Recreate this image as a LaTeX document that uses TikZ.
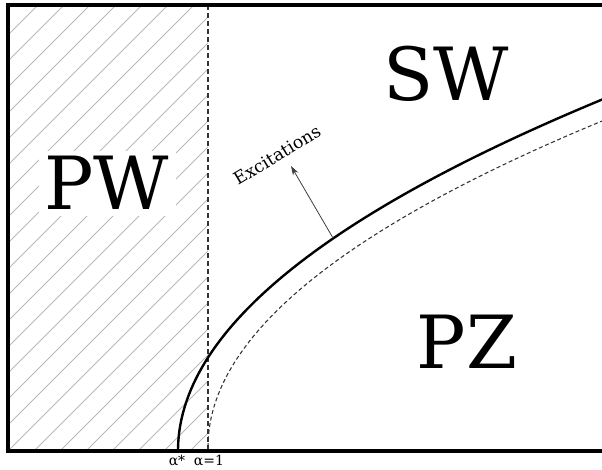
\documentclass[tikz,border=0pt]{standalone}
\usepackage{fontspec}
\setmainfont{DejaVu Serif}
\usetikzlibrary{arrows.meta, positioning, calc}

\begin{document}
\begin{tikzpicture}[
    x=0.75pt, y=-0.75pt,
    frame/.style={black, line width=2.3pt},
    hatchline/.style={gray!55, line width=0.6pt},
    border/.style={gray!40!black, line width=0.9pt, dash pattern=on 3.8pt off 2.2pt},
    curve/.style={black, line width=1.8pt},
    shifted/.style={black!80, line width=0.8pt, dash pattern=on 3pt off 2pt},
    arrowexc/.style={-{Stealth[length=7pt, width=4.5pt]}, black!75, line width=0.6pt},
    phase/.style={font=\fontsize{55}{60}\selectfont, inner sep=0pt},
    tick/.style={font=\fontsize{10.5}{12}\selectfont, inner sep=0pt}
  ]

    \useasboundingbox (0,0) rectangle (602,469);

    % Hatched region left of alpha=1
    \begin{scope}
      \clip (8,5) rectangle (208,451);
      \foreach \s in {-460,-434,...,220} {
        \draw[hatchline] (\s,451) -- (\s+446,5);
      }
    \end{scope}

    % alpha = 1 boundary
    \coordinate (atop) at (208,5);
    \coordinate (abot) at (208,451);
    \draw[border] (atop) -- (abot);

    % Phase boundaries
    \draw[curve] plot[domain=0:352, samples=90] ({178+0.00343*\x*\x},{451-\x});
    \draw[shifted] plot[domain=0:326, samples=90] ({208+0.003714*\x*\x},{447-\x});

    % Frame (open on the right)
    \draw[frame] (610,5) -- (8,5) -- (8,451) -- (610,451);

    % Phase labels
    \node[phase, anchor=base] (sw) at (446,100) {SW};
    \node[phase, fill=white, minimum width=102.75pt, minimum height=48.75pt,
          text height=40pt, text depth=0pt] (pw) at (107,183) {PW};
    \node[phase, anchor=base] (pz) at (467,368) {PZ};

    % Excitations arrow
    \coordinate (exfoot) at (333,238);
    \coordinate (extip) at (291,166);
    \draw[arrowexc] (exfoot) -- (extip);
    \node[tick, font=\fontsize{13}{15}\selectfont, rotate=31] (exc) at (277,155) {Excitations};

    % Tick labels
    \node[tick] (astar) at (177,461) {α*};
    \node[tick] (aone) at (209,461) {α=1};

  \end{tikzpicture}
\end{document}
